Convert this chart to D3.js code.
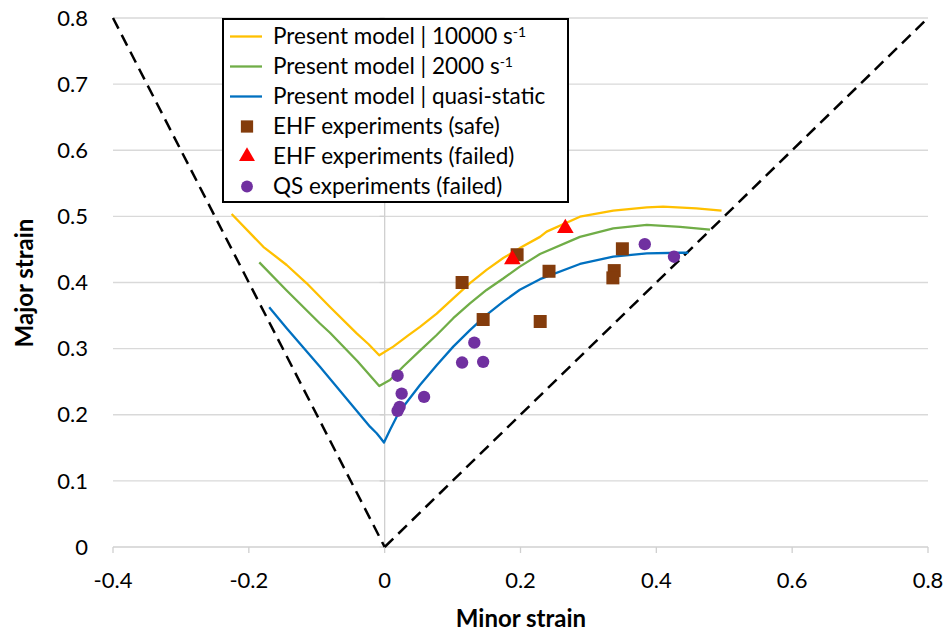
<!DOCTYPE html>
<html><head><meta charset="utf-8">
<script src="https://cdn.jsdelivr.net/npm/d3@7"></script>
<style>body{margin:0;background:#fff}svg{display:block}text{font-family:Lato,"Open Sans",sans-serif}</style>
</head><body>
<svg id="c" width="949" height="634"></svg>
<script>
const xTicks = [-0.4,-0.2,0,0.2,0.4,0.6,0.8];
const xTickLabels = ["-0.4","-0.2","0","0.2","0.4","0.6","0.8"];
const yTicks = [0,0.1,0.2,0.3,0.4,0.5,0.6,0.7,0.8];
const yTickLabels = ["0","0.1","0.2","0.3","0.4","0.5","0.6","0.7","0.8"];
const limitLeft = [[-0.4,0.8],[0,0]];
const limitRight = [[0,0],[0.8,0.8]];
const model10000 = [[-0.2253,0.5036],[-0.1787,0.454],[-0.1443,0.4265],[-0.1148,0.3988],[-0.0805,0.363],[-0.0412,0.323],[-0.024,0.307],[-0.008,0.290],[0.0127,0.303],[0.0347,0.320],[0.052,0.333],[0.0766,0.353],[0.101,0.376],[0.1256,0.399],[0.150,0.419],[0.1746,0.437],[0.199,0.452],[0.2287,0.469],[0.2385,0.477],[0.2875,0.4995],[0.3366,0.5086],[0.386,0.5137],[0.410,0.5146],[0.459,0.512],[0.496,0.5086]];
const model2000 = [[-0.1846,0.4305],[-0.1443,0.388],[-0.0953,0.338],[-0.0805,0.324],[-0.040,0.281],[-0.008,0.2435],[0.0078,0.2526],[0.0274,0.273],[0.052,0.297],[0.0766,0.3206],[0.101,0.346],[0.1256,0.3685],[0.150,0.3887],[0.1746,0.406],[0.199,0.424],[0.2287,0.443],[0.2875,0.469],[0.3366,0.482],[0.386,0.487],[0.435,0.484],[0.479,0.480]];
const modelQS = [[-0.170,0.3625],[-0.1443,0.3307],[-0.0953,0.2727],[-0.0462,0.2122],[-0.0216,0.182],[-0.0118,0.172],[-0.007,0.166],[-0.001,0.158],[0.0078,0.177],[0.0177,0.197],[0.0274,0.212],[0.052,0.245],[0.0766,0.275],[0.101,0.303],[0.1256,0.328],[0.150,0.351],[0.1746,0.371],[0.199,0.389],[0.2287,0.405],[0.2875,0.428],[0.3366,0.439],[0.386,0.444],[0.435,0.445],[0.447,0.445]];
const ehfSafe = [[0.114,0.400],[0.195,0.442],[0.145,0.344],[0.242,0.417],[0.229,0.341],[0.350,0.451],[0.338,0.418],[0.336,0.407]];
const ehfFailed = [[0.188,0.435],[0.266,0.482]];
const qsFailed = [[0.019,0.259],[0.025,0.232],[0.022,0.212],[0.019,0.206],[0.058,0.227],[0.114,0.279],[0.132,0.309],[0.145,0.280],[0.383,0.458],[0.426,0.439]];
const legendLabels = ["Present model | 10000 s","Present model | 2000 s","Present model | quasi-static","EHF experiments (safe)","EHF experiments (failed)","QS experiments (failed)"];

const svg = d3.select("#c");
const x = d3.scaleLinear().domain([-0.4,0.8]).range([113,928]);
const y = d3.scaleLinear().domain([0,0.8]).range([547,18]);

// gridlines
svg.append("g").selectAll("line").data(yTicks.slice(1)).join("line")
  .attr("x1",x(-0.4)).attr("x2",x(0.8)).attr("y1",d=>y(d)).attr("y2",d=>y(d))
  .attr("stroke","#d9d9d9").attr("stroke-width",1.3);
// x axis line at y=0
svg.append("line").attr("x1",x(-0.4)).attr("x2",x(0.8)).attr("y1",y(0)).attr("y2",y(0)).attr("stroke","#d0d0d0").attr("stroke-width",1.3);
svg.append("g").selectAll("line").data(xTicks).join("line")
  .attr("x1",d=>x(d)).attr("x2",d=>x(d)).attr("y1",y(0)).attr("y2",y(0)+6).attr("stroke","#d0d0d0").attr("stroke-width",1.3);
// y axis at x=0
svg.append("line").attr("x1",x(0)).attr("x2",x(0)).attr("y1",y(0)).attr("y2",y(0.8)).attr("stroke","#d0d0d0").attr("stroke-width",1.3);
svg.append("g").selectAll("line").data(yTicks).join("line")
  .attr("x1",x(0)-5).attr("x2",x(0)).attr("y1",d=>y(d)).attr("y2",d=>y(d)).attr("stroke","#d0d0d0").attr("stroke-width",1.3);

// tick labels
svg.append("g").selectAll("text").data(yTicks).join("text")
  .attr("x",88).attr("y",d=>y(d)).attr("dy","0.35em").attr("text-anchor","end")
  .attr("font-size",22).attr("fill","#000").text((d,i)=>yTickLabels[i]);
svg.append("g").selectAll("text").data(xTicks).join("text")
  .attr("x",d=>x(d)).attr("y",580).attr("dy","0.35em").attr("text-anchor","middle")
  .attr("font-size",22).attr("fill","#000").text((d,i)=>xTickLabels[i]);
// axis titles
svg.append("text").attr("x",521).attr("y",619).attr("dy","0.35em").attr("text-anchor","middle")
  .attr("font-size",24).attr("font-weight","bold").text("Minor strain");
svg.append("text").attr("transform","translate(25,283) rotate(-90)").attr("dy","0.35em").attr("text-anchor","middle")
  .attr("font-size",24).attr("font-weight","bold").text("Major strain");

const line = d3.line().x(d=>x(d[0])).y(d=>y(d[1]));
[limitLeft,limitRight].forEach(dat=>{
  svg.append("path").attr("d",line(dat)).attr("fill","none").attr("stroke","#000")
    .attr("stroke-width",2.5).attr("stroke-dasharray","12,7");
});
const curves = [[model10000,"#FFC000"],[model2000,"#70AD47"],[modelQS,"#0070C0"]];
curves.forEach(([dat,col])=>{
  svg.append("path").attr("d",line(dat)).attr("fill","none").attr("stroke",col)
    .attr("stroke-width",2.3).attr("stroke-linejoin","round");
});
const sq = d3.symbol().type(d3.symbolSquare).size(169);
const tri = d3.symbol().type(d3.symbolTriangle).size(120);
const cir = d3.symbol().type(d3.symbolCircle).size(120);
svg.append("g").selectAll("path").data(ehfSafe).join("path")
  .attr("transform",d=>`translate(${x(d[0])},${y(d[1])})`).attr("d",sq).attr("fill","#843C0C");
svg.append("g").selectAll("path").data(ehfFailed).join("path")
  .attr("transform",d=>`translate(${x(d[0])},${y(d[1])})`).attr("d",tri).attr("fill","#FF0000");
svg.append("g").selectAll("path").data(qsFailed).join("path")
  .attr("transform",d=>`translate(${x(d[0])},${y(d[1])})`).attr("d",cir).attr("fill","#7030A0");

// legend
const lg = svg.append("g");
lg.append("rect").attr("x",223).attr("y",19).attr("width",345).attr("height",183)
  .attr("fill","#fff").attr("stroke","#000").attr("stroke-width",2);
const rowY = i => 36.5 + i*30;
const lineCols = ["#FFC000","#70AD47","#0070C0"];
lineCols.forEach((c,i)=>{
  lg.append("line").attr("x1",230).attr("x2",262).attr("y1",rowY(i)).attr("y2",rowY(i)).attr("stroke",c).attr("stroke-width",2.3);
});
lg.append("path").attr("transform",`translate(247,${rowY(3)})`).attr("d",d3.symbol().type(d3.symbolSquare).size(150)).attr("fill","#843C0C");
lg.append("path").attr("transform",`translate(247,${rowY(4)})`).attr("d",d3.symbol().type(d3.symbolTriangle).size(110)).attr("fill","#FF0000");
lg.append("path").attr("transform",`translate(247,${rowY(5)})`).attr("d",d3.symbol().type(d3.symbolCircle).size(110)).attr("fill","#7030A0");
legendLabels.forEach((t,i)=>{
  const tx = lg.append("text").attr("x",273).attr("y",rowY(i)).attr("dy","0.35em").attr("font-size",22.5).attr("fill","#000");
  tx.append("tspan").text(t);
  if(i<2){
    tx.append("tspan").attr("dy","-0.55em").attr("font-size",14).text("-1");
  }
});
</script>
</body></html>
